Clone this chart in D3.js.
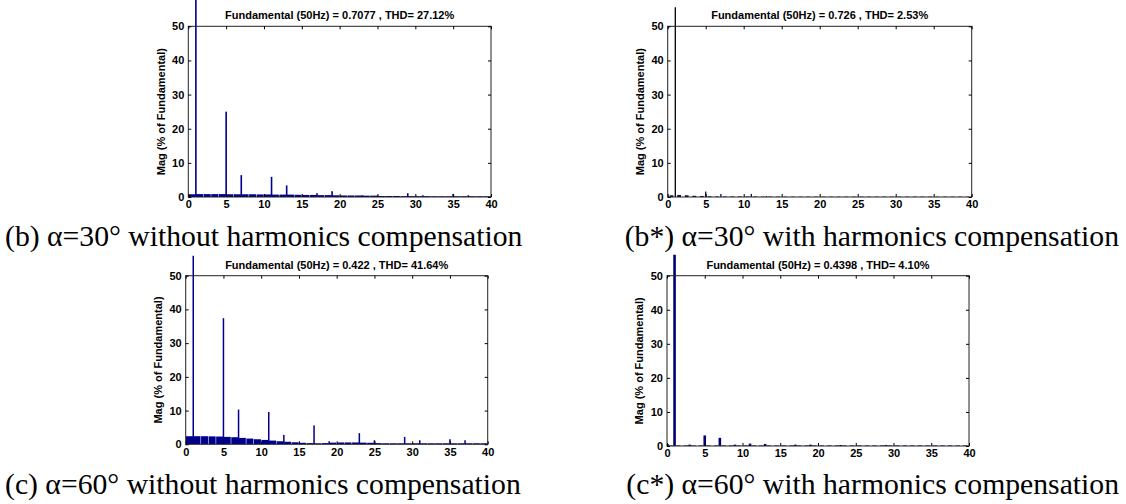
<!DOCTYPE html>
<html>
<head>
<meta charset="utf-8">
<script src="https://cdn.jsdelivr.net/npm/d3@7"></script>
<style>
  html, body { margin: 0; padding: 0; background: #fff; }
  svg { display: block; }
  .ax text { font-family: "Liberation Sans", Arial, sans-serif; font-weight: bold; font-size: 11px; fill: #000; }
  .ax path { display: none; }
  .ax line { stroke: #000; }
</style>
</head>
<body>
<svg id="chart" width="1126" height="504"></svg>
<script>
// axis ticks
const xTicks = [0, 5, 10, 15, 20, 25, 30, 35, 40]
const yTicks = [0, 10, 20, 30, 40, 50]

// (b) alpha=30, no compensation
const bOrders = [1, 5, 7, 11, 13, 17, 19, 23, 25, 29, 31, 35, 37]
const bMags   = [100, 25.0, 6.4, 5.9, 3.4, 1.1, 1.7, 0.5, 0.4, 1.1, 0.5, 0.9, 0.5]
const bFloor  = [0.8, 0.85, 0.85, 0.85, 0.85, 0.8, 0.8, 0.8, 0.8, 0.75, 0.75, 0.7, 0.7, 0.7, 0.65, 0.6, 0.6, 0.55, 0.55, 0.5,
                 0.45, 0.45, 0.45, 0.4, 0.4, 0.3, 0.3, 0.3, 0.25, 0.25, 0.25, 0.25, 0.2, 0.2, 0.2, 0.2, 0.2, 0.2, 0.2, 0.2]

// (b*) alpha=30, with compensation
const bsOrders = [1, 5, 7, 11, 13]
const bsMags   = [100, 1.6, 0.9, 0.9, 0.3]
const bsFloor  = [0.5, 0.6, 0.5, 0.35, 0.3, 0.2, 0.15, 0.15, 0.15, 0.15, 0.15, 0.15, 0.12, 0.12, 0.12, 0.1, 0.1, 0.1, 0.1, 0.1,
                  0.1, 0.1, 0.1, 0.1, 0.1, 0.1, 0.1, 0.1, 0.1, 0.1, 0.1, 0.1, 0.1, 0.1, 0.1, 0.1, 0.1, 0.1, 0.1, 0.1]

// (c) alpha=60, no compensation
const cOrders = [1, 5, 7, 11, 13, 17, 19, 23, 25, 29, 31, 35, 37]
const cMags   = [100, 37.4, 10.3, 9.6, 2.8, 5.6, 0.9, 3.3, 1.2, 2.2, 1.2, 1.5, 1.2]
const cFloor  = [2.4, 2.4, 2.4, 2.35, 2.3, 2.2, 2.1, 1.9, 1.7, 1.5, 1.3, 1.1, 0.9, 0.75, 0.6, 0.45, 0.35, 0.3, 0.35, 0.5,
                 0.55, 0.55, 0.55, 0.5, 0.45, 0.35, 0.3, 0.3, 0.3, 0.3, 0.3, 0.3, 0.3, 0.3, 0.3, 0.3, 0.3, 0.3, 0.3, 0.3]

// (c*) alpha=60, with compensation
const csOrders = [0, 1, 3, 5, 7, 9, 11, 13, 17, 19, 23, 29]
const csMags   = [0.6, 100, 0.4, 3.1, 2.4, 0.4, 0.7, 0.6, 0.4, 0.4, 0.3, 0.3]
const csFloor  = [0.15, 0.15, 0.15, 0.15, 0.15, 0.15, 0.15, 0.15, 0.15, 0.15, 0.15, 0.15, 0.15, 0.15, 0.15, 0.15, 0.15, 0.15, 0.15, 0.15,
                  0.15, 0.15, 0.15, 0.15, 0.15, 0.15, 0.15, 0.15, 0.15, 0.15, 0.15, 0.15, 0.15, 0.15, 0.15, 0.15, 0.15, 0.15, 0.15, 0.15]

const titles = [
  "Fundamental (50Hz) = 0.7077 , THD= 27.12%",
  "Fundamental (50Hz) = 0.726 , THD= 2.53%",
  "Fundamental (50Hz) = 0.422 , THD= 41.64%",
  "Fundamental (50Hz) = 0.4398 , THD= 4.10%"
]
const captions = [
  "(b) α=30° without harmonics compensation",
  "(b*) α=30° with harmonics compensation",
  "(c) α=60° without harmonics compensation",
  "(c*) α=60° with harmonics compensation"
]
const yLabel = "Mag (% of Fundamental)"

const panels = [
  {orders: bOrders, mags: bMags, floor: bFloor, box: [188.3, 26.3, 491, 197], over: 27,
   color: "#00008c", fundColor: "#00008c", peakW: 1.6, floorFrac: 0.93, capX: 5, capY: 246, capAnchor: "start"},
  {orders: bsOrders, mags: bsMags, floor: bsFloor, box: [667.7, 26.3, 971.7, 197], over: 19,
   color: "#0a0a50", fundColor: "#000", peakW: 1.3, floorFrac: 0.5, capX: 1119, capY: 246, capAnchor: "end"},
  {orders: cOrders, mags: cMags, floor: cFloor, box: [185.7, 275.7, 487.7, 444.3], over: 20,
   color: "#00008c", fundColor: "#00008c", peakW: 1.5, floorFrac: 0.93, capX: 5, capY: 494, capAnchor: "start"},
  {orders: csOrders, mags: csMags, floor: csFloor, box: [667, 275.7, 969, 446], over: 21,
   color: "#000070", fundColor: "#000070", peakW: 2.6, floorFrac: 0.6, capX: 1119, capY: 494, capAnchor: "end"}
]

const svg = d3.select("#chart")
svg.append("rect").attr("width", 1126).attr("height", 504).attr("fill", "#fff")

panels.forEach((p, i) => {
  const [x0, y0, x1, y1] = p.box
  const x = d3.scaleLinear().domain([0, 40]).range([x0, x1])
  const y = d3.scaleLinear().domain([0, 50]).range([y1, y0])

  const clipId = "clip" + i
  svg.append("clipPath").attr("id", clipId)
    .append("rect")
      .attr("x", x0).attr("y", y0 - p.over)
      .attr("width", x1 - x0).attr("height", y1 - y0 + p.over)

  const g = svg.append("g").attr("clip-path", `url(#${clipId})`)

  // spectral floor (inter-harmonic bins)
  g.append("g").selectAll("rect")
    .data(p.floor)
    .join("rect")
      .attr("x", (d, k) => x(k) + (x(k + 1) - x(k)) * (1 - p.floorFrac) / 2)
      .attr("width", (d, k) => (x(k + 1) - x(k)) * p.floorFrac)
      .attr("y", d => y(d))
      .attr("height", d => y(0) - y(d))
      .attr("fill", p.color)

  // harmonic peaks
  g.append("g").selectAll("rect")
    .data(p.orders.map((o, k) => ({o, m: p.mags[k]})))
    .join("rect")
      .attr("x", d => Math.max(x0, x(d.o) - p.peakW / 2))
      .attr("width", d => d.o === 0 ? p.peakW / 2 + 0.5 : p.peakW)
      .attr("y", d => y(d.m))
      .attr("height", d => y(0) - y(d.m))
      .attr("fill", d => d.o === 1 ? p.fundColor : p.color)

  // box
  svg.append("rect")
    .attr("x", x0).attr("y", y0)
    .attr("width", x1 - x0).attr("height", y1 - y0)
    .attr("fill", "none").attr("stroke", "#222").attr("stroke-width", 1)

  // axes, ticks inside like matlab
  svg.append("g").attr("class", "ax")
    .attr("transform", `translate(0,${y1})`)
    .call(d3.axisBottom(x).tickValues(xTicks).tickSizeInner(-3).tickSizeOuter(0).tickPadding(3.5))
  svg.append("g").attr("class", "ax")
    .attr("transform", `translate(0,${y0})`)
    .call(d3.axisTop(x).tickValues(xTicks).tickSizeInner(-3).tickSizeOuter(0).tickFormat(""))
  svg.append("g").attr("class", "ax")
    .attr("transform", `translate(${x0},0)`)
    .call(d3.axisLeft(y).tickValues(yTicks).tickSizeInner(-3).tickSizeOuter(0).tickPadding(4))
  svg.append("g").attr("class", "ax")
    .attr("transform", `translate(${x1},0)`)
    .call(d3.axisRight(y).tickValues(yTicks).tickSizeInner(-3).tickSizeOuter(0).tickFormat(""))

  // title
  svg.append("text")
    .attr("x", (x0 + x1) / 2).attr("y", y0 - 7)
    .attr("text-anchor", "middle")
    .style("font", "bold 11px 'Liberation Sans', Arial, sans-serif")
    .text(titles[i])

  // y label
  svg.append("text")
    .attr("transform", `translate(${x0 - 27.6},${(y0 + y1) / 2}) rotate(-90)`)
    .attr("text-anchor", "middle")
    .attr("dy", "0.35em")
    .style("font", "bold 11px 'Liberation Sans', Arial, sans-serif")
    .text(yLabel)

  // caption
  svg.append("text")
    .attr("x", p.capX).attr("y", p.capY)
    .attr("text-anchor", p.capAnchor)
    .style("font", "29.7px 'Liberation Serif', 'Times New Roman', serif")
    .text(captions[i])
})
</script>
</body>
</html>
